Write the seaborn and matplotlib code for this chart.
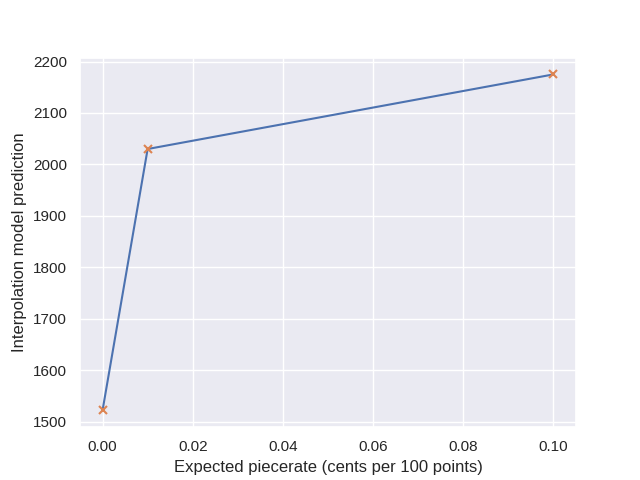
import matplotlib
matplotlib.use('Agg')
import matplotlib.pyplot as plt
import seaborn as sns
import pandas as pd

# expected piecerate vs. model prediction
piecerates = [0.0, 0.01, 0.1]
predictions = [1522, 2030, 2175]

sns.set_theme()
plt.rcParams['font.family'] = ['Liberation Sans', 'DejaVu Sans']

data = pd.DataFrame({'piecerate': piecerates, 'prediction': predictions})

fig, ax = plt.subplots(figsize=(6.4, 4.8), dpi=100)
sns.lineplot(x='piecerate', y='prediction', data=data, ax=ax, color='C0')
ax.plot(data['piecerate'], data['prediction'], 'x', color='C1', markeredgewidth=1.5)

ax.set(xlabel='Expected piecerate (cents per 100 points)',
       ylabel='Interpolation model prediction')

plt.savefig('out.png')
